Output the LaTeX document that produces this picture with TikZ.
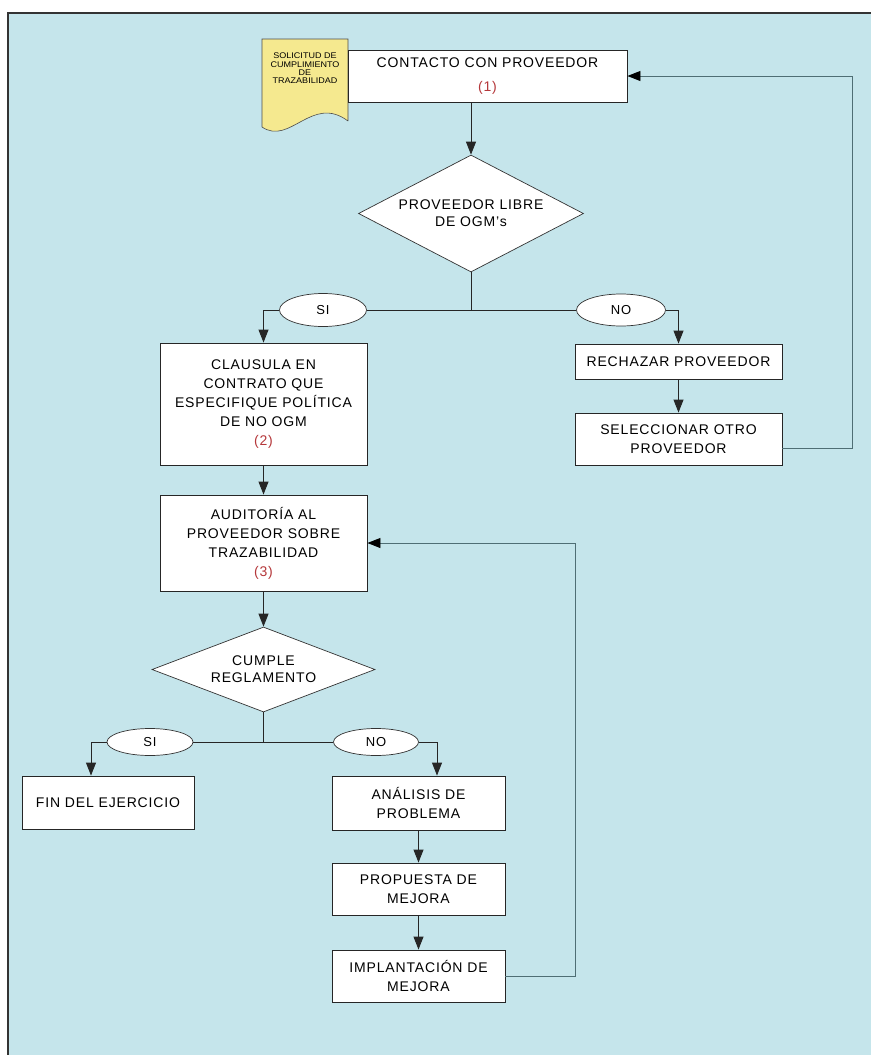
\documentclass[tikz,border=0pt]{standalone}
\usepackage{fontspec}
\setmainfont{Liberation Sans}[LetterSpace=6]
\newfontfamily\docfont{Liberation Sans}[FakeStretch=1.1]
\usetikzlibrary{shapes.geometric,arrows.meta}
\definecolor{bg}{HTML}{C5E5EB}
\definecolor{docy}{HTML}{F5E98F}
\definecolor{numred}{HTML}{B5373A}
\definecolor{fbline}{HTML}{4F6E74}
\newcommand{\nr}[1]{{\color{numred}#1}}
\tikzset{
  box/.style={draw=black!85, fill=white, line width=0.9pt, align=center, inner sep=2pt,
    font=\fontsize{14}{19}\selectfont},
  dia/.style={diamond, draw=black!80, fill=white, line width=0.7pt, align=center, inner sep=0pt,
    font=\fontsize{14}{17}\selectfont},
  oval/.style={ellipse, draw=black!80, fill=white, line width=0.7pt, inner sep=0pt,
    font=\fontsize{13}{14}\selectfont},
  conn/.style={draw=black!85, line width=0.9pt},
  arr/.style={conn, -{Triangle[width=10pt,length=13pt]}},
  fb/.style={draw=fbline, line width=0.9pt, -{Triangle[width=10pt,length=13pt,fill=black,color=black]}},
}
\begin{document}
\begin{tikzpicture}[x=1pt,y=-1pt]
\useasboundingbox (0,0) rectangle (871,1055);
\fill[white] (0,0) rectangle (871,1055);
\fill[bg] (8,13) rectangle (871,1055);
\draw[line width=1.2pt, black!80] (8,1055) -- (8,13) -- (871,13);

% document shape
\draw[fill=docy, draw=black!70, line width=0.6pt] (348,121) -- (348,39) -- (262,39) -- (262,127)
  .. controls (290,146) and (312,94) .. (348,121);
\node[align=center, inner sep=0pt, font=\docfont\fontsize{8.2}{8.3}\selectfont] (doc) at (305,68.5)
  {SOLICITUD DE\\CUMPLIMIENTO\\DE\\TRAZABILIDAD};

% nodes
\node[box, minimum width=279pt, minimum height=52pt] (b1) at (487.5,76)
  {CONTACTO CON PROVEEDOR\\[5pt]\nr{(1)}};
\node[dia, minimum width=225pt, minimum height=117pt, shape aspect=1.92] (d1) at (471,213.5)
  {PROVEEDOR LIBRE\\DE OGM's};
\node[oval, minimum width=87pt, minimum height=33pt] (si1) at (323,310) {SI};
\node[oval, minimum width=89pt, minimum height=32pt] (no1) at (621,310) {NO};
\node[box, minimum width=207pt, minimum height=122pt] (b2) at (263.5,404)
  {CLAUSULA EN\\CONTRATO QUE\\ESPECIFIQUE POLÍTICA\\DE NO OGM\\\nr{(2)}};
\node[box, minimum width=207pt, minimum height=35pt] (rech) at (678.5,361.5) {RECHAZAR PROVEEDOR};
\node[box, minimum width=207pt, minimum height=52pt] (sel) at (678.5,439) {SELECCIONAR OTRO\\PROVEEDOR};
\node[box, minimum width=207pt, minimum height=96pt] (b3) at (263.5,543)
  {AUDITORÍA AL\\PROVEEDOR SOBRE\\TRAZABILIDAD\\\nr{(3)}};
\node[dia, minimum width=223pt, minimum height=85pt, shape aspect=2.6] (d2) at (263.5,669.5)
  {CUMPLE\\REGLAMENTO};
\node[oval, minimum width=86pt, minimum height=27pt] (si2) at (150,742) {SI};
\node[oval, minimum width=85pt, minimum height=27pt] (no2) at (376,742) {NO};
\node[box, minimum width=172pt, minimum height=53pt] (fin) at (108,802.5) {FIN DEL EJERCICIO};
\node[box, minimum width=173pt, minimum height=54pt] (ana) at (418.5,803) {ANÁLISIS DE\\PROBLEMA};
\node[box, minimum width=173pt, minimum height=52pt] (prop) at (418.5,889) {PROPUESTA DE\\MEJORA};
\node[box, minimum width=173pt, minimum height=52pt] (impl) at (418.5,976) {IMPLANTACIÓN DE\\MEJORA};

% connectors
\draw[arr] (b1.south -| d1.north) -- (d1.north);
\draw[conn] (d1.south) -- (d1.south |- si1.center);
\draw[conn] (si1.east) -- (no1.west);
\draw[arr] (si1.west) -| (b2.north);
\draw[arr] (no1.east) -| (rech.north);
\draw[arr] (rech.south) -- (sel.north);
\draw[fb] ([yshift=-9pt]sel.east) -- ++(70,0) |- (b1.east);
\draw[arr] (b2.south) -- (b3.north);
\draw[arr] (b3.south) -- (d2.north);
\draw[conn] (d2.south) -- (d2.south |- si2.center);
\draw[conn] (si2.east) -- (no2.west);
\draw[arr] (si2.west) -| ([xshift=-17pt]fin.north);
\draw[arr] (no2.east) -| ([xshift=18.5pt]ana.north);
\draw[arr] (ana.south) -- (prop.north);
\draw[arr] (prop.south) -- (impl.north);
\draw[fb] (impl.east) -- ++(70,0) |- (b3.east);
\end{tikzpicture}
\end{document}
